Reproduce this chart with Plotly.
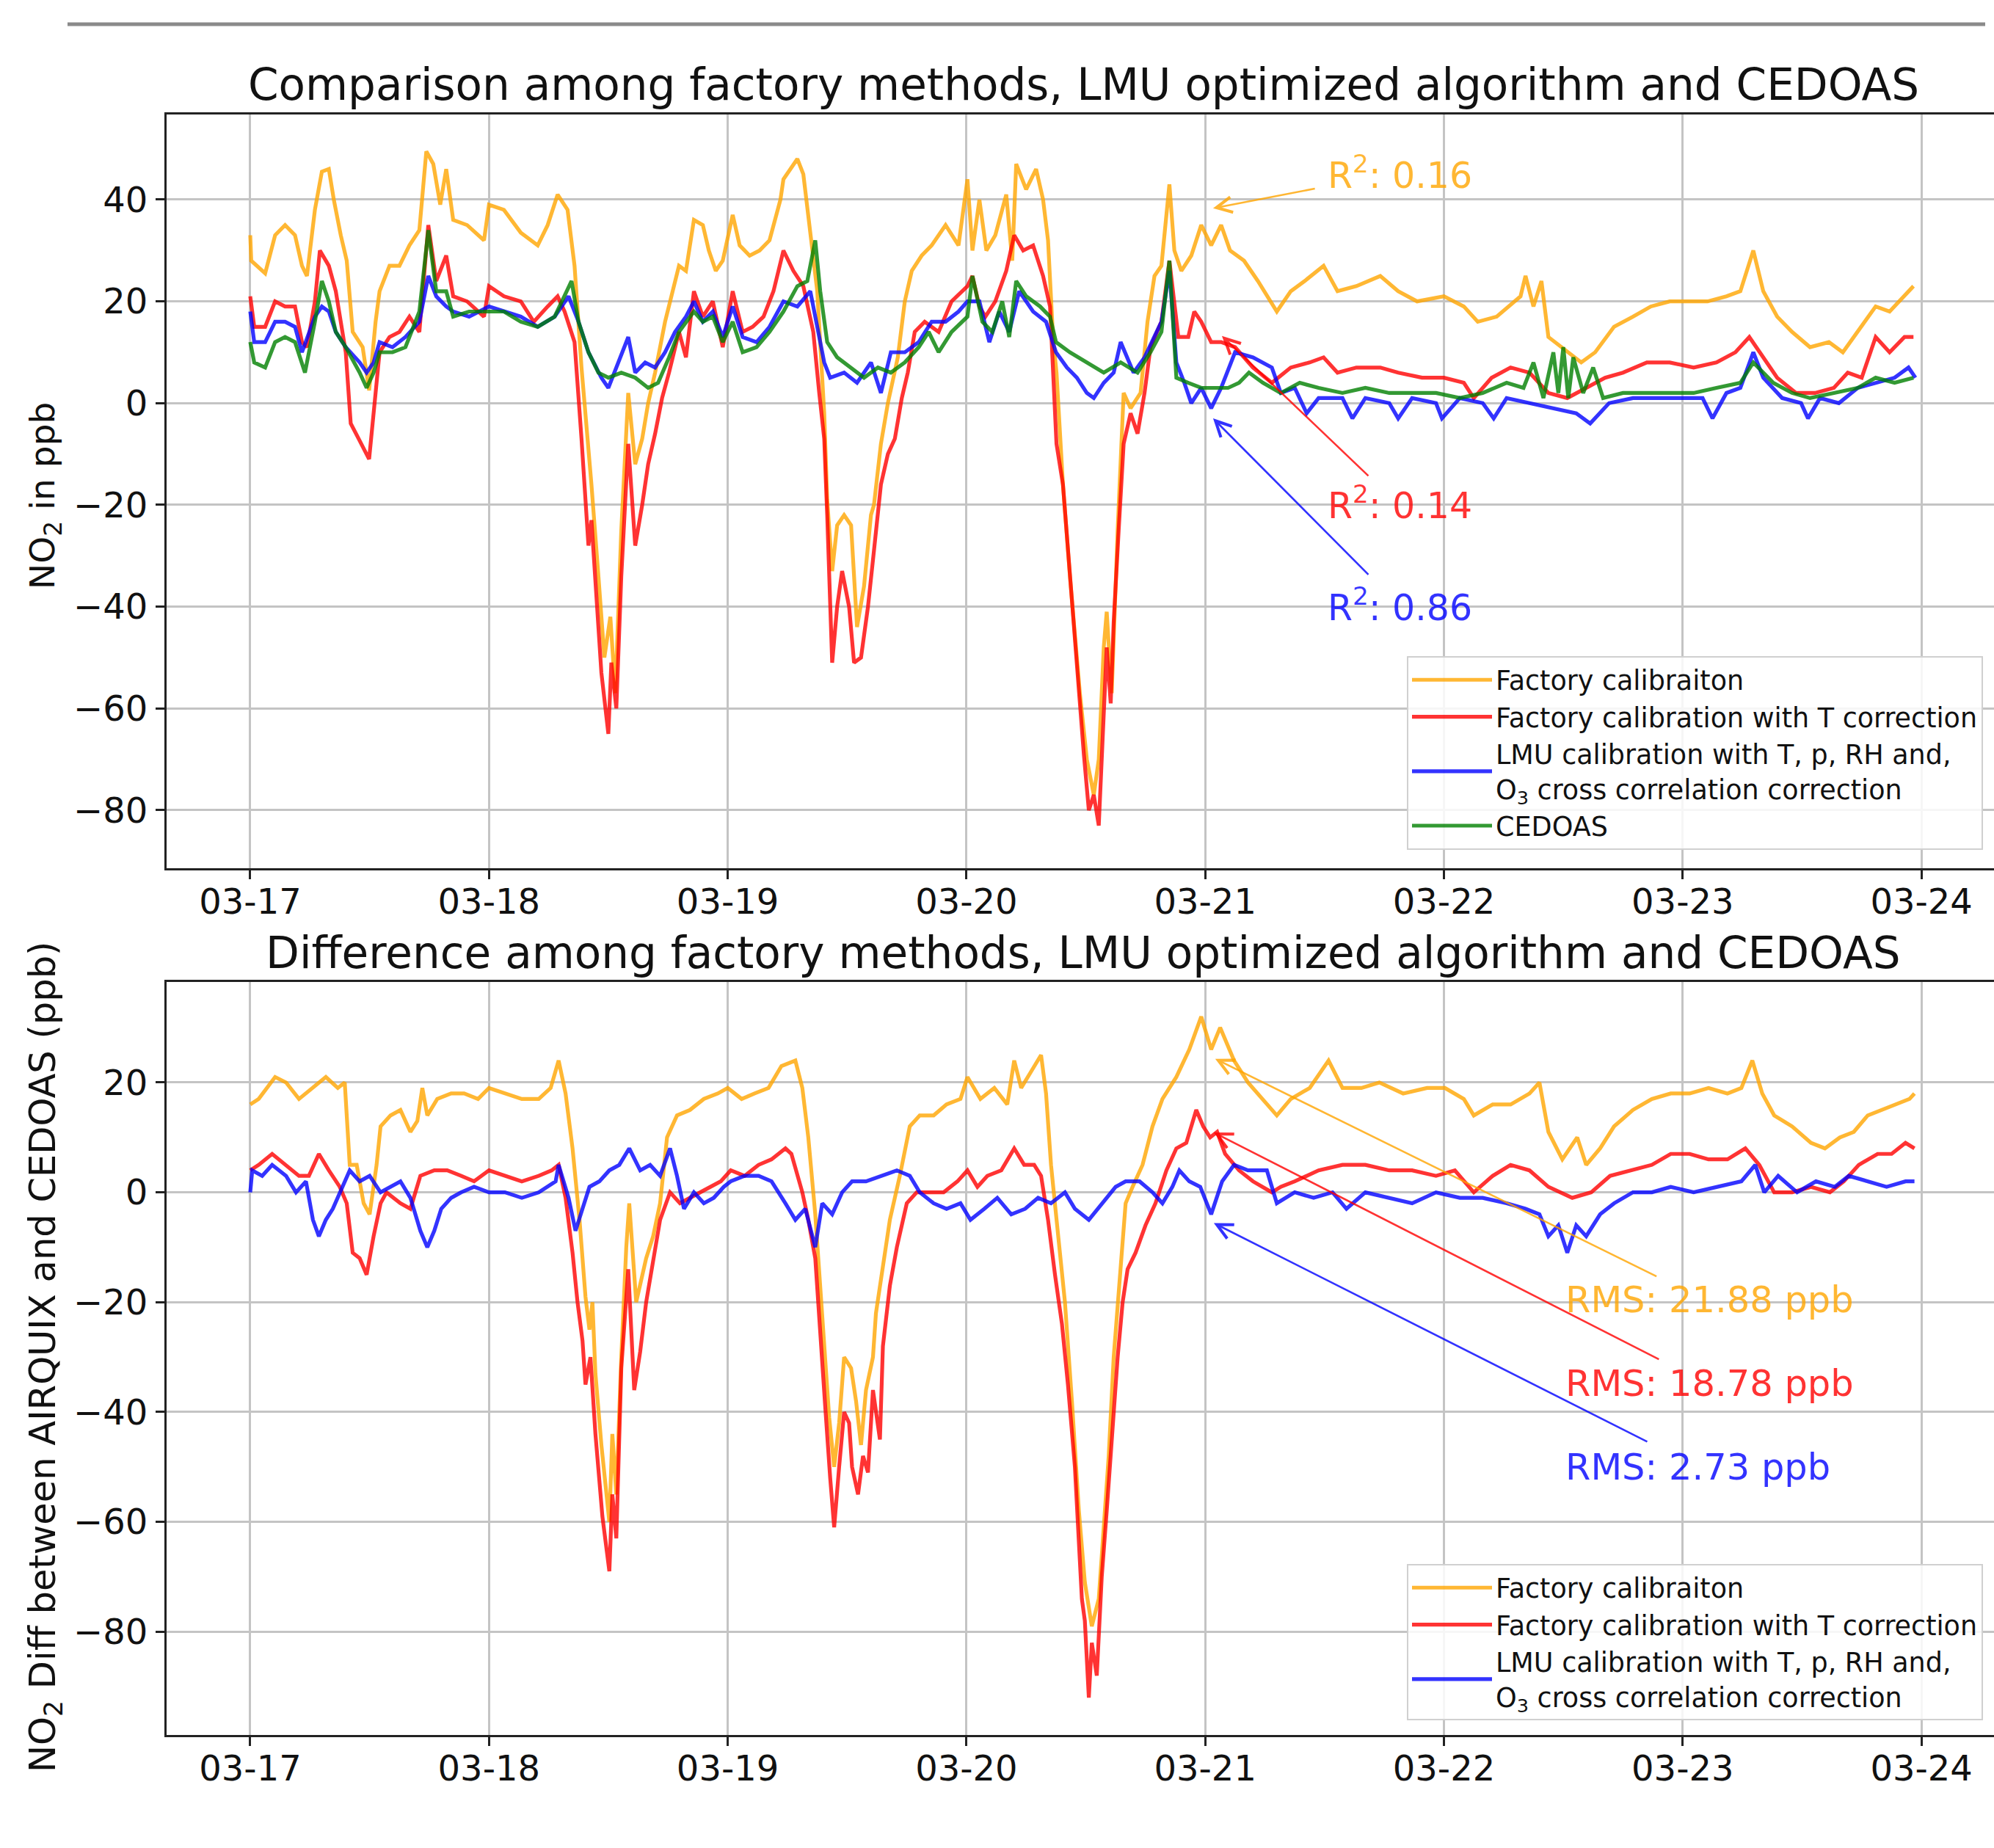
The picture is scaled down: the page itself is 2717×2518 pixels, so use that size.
import pandas as pd
import plotly.graph_objects as go

# ---------------- data (hours since 03-17 00:00, value in ppb) ----------------
BASE = pd.Timestamp("2022-03-17 00:00")

top_fact_h = [0, 0.1, 1.5, 2.5, 3.5, 4.5, 5.2, 5.7, 6.5, 7.2, 7.9, 8.4, 9.1, 9.7, 10.3, 11.3, 11.95, 12.6, 13, 14, 15, 16, 17, 17.7, 18.4, 19.1, 19.7, 20.4, 21.8, 23.5,
              24, 25.5, 27.2, 28.9, 29.9, 30.9, 31.9, 32.6, 33.3, 34, 34.3, 35, 35.6, 36.2, 36.7, 37.3, 38, 38.7, 39.4, 40, 40.7, 41.7, 43.1, 43.8, 44.6, 45.5, 46.1, 46.8, 47.5,
              48.5, 49.2, 50.2, 51.2, 52.2, 53.3, 53.6, 55, 55.6, 56.3, 57, 57.7, 58, 58.5, 59, 59.7, 60.4, 61, 61.7, 62.4, 62.7, 63.4, 64.1, 65.1, 65.8, 66.5, 67.5, 68.5, 69.9, 71.2,
              72.1, 72.6, 73.3, 74, 74.9, 76, 76.6, 77, 78, 79, 79.7, 80.2, 80.7, 81.05, 81.7, 82.4, 83.4, 84.1, 84.8, 85.3, 85.8, 86.1, 86.6, 87.2, 87.8, 88.5, 89.5, 90.2, 90.9,
              91.6, 92.4, 92.9, 93.6, 94.6, 95.6, 96.6, 97.6, 98.5, 99.9, 101.3, 103.2, 104.6, 106, 107.9, 109.3, 111.2, 113.6, 115.4, 117.3,
              120, 122, 123.4, 125.3, 127.7, 128.2, 129, 129.8, 130.5, 132.4, 133.8, 135.2, 137.1, 139, 140.8, 142.7, 144.6, 146.5, 148.4, 149.8, 151.1, 152.1, 153.5, 155, 156.8,
              158.7, 160.1, 161.6, 163.4, 164.8, 166.3, 167.2]
top_fact_v = [33, 28, 25.5, 33, 35, 33, 27, 25, 38, 45.5, 46, 40, 33, 28, 14, 11, 2.5, 16, 22, 27, 27, 31, 34, 49.5, 47, 39, 46, 36, 35, 32,
              39, 38, 33.5, 31, 35, 41, 38, 27, 7, -8, -16, -34, -50, -42, -57, -25, 2, -12, -7, 0, 6, 16, 27, 26, 36, 35, 30, 26, 28,
              37, 31, 29, 30, 32, 40, 44, 48, 45, 33, 22, -2, -19, -33, -24, -22, -24, -44, -36, -22, -20, -8, 0, 9, 20, 26, 29, 31, 35, 31,
              44, 30, 40, 30, 33, 41, 28, 47, 42, 46, 40, 32, 13, 6, -16, -34, -57, -70, -77, -70, -48, -41, -57, -25, 2, -1, 2, 16, 25,
              27, 43, 30, 26, 29, 35, 31, 35, 30, 28, 24, 18, 22, 24, 27, 22, 23, 25, 22, 20,
              21, 19, 16, 17, 21, 25, 19, 24, 13, 10, 8, 10, 15, 17, 19, 20, 20, 20, 21, 22, 30, 22, 17, 14, 11,
              12, 10, 14, 19, 18, 21, 23]

top_tcorr_h = [0, 0.4, 1.5, 2.5, 3.5, 4.5, 5.2, 5.7, 6.5, 7, 7.9, 8.6, 9.6, 10.1, 10.9, 11.95, 12.6, 13, 14, 15, 16, 17, 17.9, 18.7, 19.7, 20.4, 21.8, 23.5,
               24, 25.5, 27.2, 28.5, 29.9, 30.9, 31.6, 32.6, 33.3, 33.6, 34, 34.3, 34.8, 35.3, 36, 36.3, 36.8, 37.3, 38, 38.7, 39.4, 40, 40.7, 41.4, 42.1, 43.1, 43.8, 44.6, 45.5, 46.5, 47.5,
               48.5, 49.5, 50.5, 51.6, 52.6, 53.6, 54.6, 55.6, 56.6, 57.2, 57.7, 58, 58.5, 59, 59.5, 60.2, 60.7, 61.4, 62.1, 62.7, 63.4, 64.1, 64.8, 65.5, 66.1, 66.8, 67.8, 69.2, 70.5,
               72.1, 72.6, 73.3, 73.9, 74.9, 76, 76.8, 77.7, 78.7, 79.7, 80.4, 80.7, 81.05, 81.7, 82.4, 83.1, 83.8, 84.3, 84.8, 85.3, 85.8, 86.1, 86.5, 86.8, 87.3, 87.8, 88.5, 89.2, 89.9,
               90.5, 91.6, 92.4, 93.3, 94.3, 94.9, 95.6, 96.6, 97.6, 99, 100.8, 102.7, 104.6, 106.5, 107.9, 109.3, 111.2, 113.6, 115.4, 117.8,
               120, 122, 123, 124.8, 126.7, 128.6, 130.5, 132.4, 134.3, 136.2, 138, 140.4, 142.7, 145.1, 147.4, 149.3, 150.7, 152.1, 153.5, 155.4, 157.3, 159.2, 160.6, 162,
               163.4, 164.8, 166.3, 167.2]
top_tcorr_v = [21, 15, 15, 20, 19, 19, 12, 11, 20, 30, 27, 22, 10, -4, -7, -11, 2, 10, 13, 14, 17, 14, 35, 24, 29, 21, 20, 17,
               23, 21, 20, 16, 19, 21, 18, 12, -7, -16, -28, -23, -39, -53, -65, -51, -60, -34, -8, -28, -20, -12, -6, 1, 6, 14, 9, 22, 17, 20, 11,
               22, 14, 15, 17, 22, 30, 26, 23, 14, 2, -7, -22, -51, -40, -33, -40, -51, -50, -40, -29, -16, -10, -7, 1, 6, 14, 16, 14, 20,
               23, 25, 19, 17, 20, 26, 33, 30, 31, 25, 19, 6, -8, -16, -34, -53, -69, -80, -77, -83, -60, -48, -59, -43, -25, -8, -2, -6, 2,
               11, 16, 28, 13, 13, 18, 16, 12, 12, 11, 7, 4, 7, 8, 9, 6, 7, 7, 6, 5,
               5, 4, 1, 5, 7, 6, 2, 1, 3, 5, 6, 8, 8, 7, 8, 10, 13, 9, 5, 2, 2, 3, 6, 5,
               13, 10, 13, 13]

top_lmu_h = [0, 0.4, 1.5, 2.5, 3.5, 4.5, 5.2, 6.5, 7.2, 7.9, 8.6, 9.6, 11, 11.7, 12.4, 13, 14.3, 15.6, 17, 17.9, 18.7, 19.7, 20.4, 22,
             24, 25.5, 27.2, 28.9, 30.6, 32, 33, 34, 35.3, 36, 37, 38, 38.7, 39.7, 40.7, 41.7, 42.7, 43.8, 44.6, 45.5, 46.5, 47.5,
             48.5, 49.5, 50.9, 52.2, 53.6, 55, 56.3, 57, 57.7, 58.3, 59.7, 61, 62.4, 63.4, 64.4, 65.8, 67.2, 68.5, 69.9, 71.2,
             72.1, 73.3, 74.3, 75.3, 76.3, 77.3, 78.7, 80, 81, 82.1, 83.1, 84.1, 84.8, 85.8, 86.8, 87.5, 88.8, 89.9, 90.9, 91.6, 92.4, 93.1, 93.9, 94.6, 95.6,
             96.6, 97.6, 99, 100.8, 102.7, 103.6, 105, 106.2, 107.4, 109.8, 110.8, 112.1, 114.5, 115.4, 116.8, 119.2, 119.8,
             121.6, 123.9, 125.0, 126.3, 128.6, 131, 133.3, 134.7, 136.6, 139, 141.3, 143.7, 146, 147, 148.4, 149.8, 151.1, 152.1, 154, 155.9, 156.6, 157.8, 159.7,
             161.6, 163.4, 165.3, 166.7, 167.4]
top_lmu_v = [18, 12, 12, 16, 16, 15, 10, 17, 19, 18, 14, 11, 8, 6, 8, 12, 11, 13, 16, 25, 21, 19, 18, 17,
             19, 18, 17, 15, 17, 21, 16, 10, 5, 3, 8, 13, 6, 8, 7, 10, 14, 17, 20, 16, 18, 13,
             19, 13, 12, 15, 20, 19, 22, 15, 8, 5, 6, 4, 8, 2, 10, 10, 12, 16, 16, 18,
             20, 20, 12, 18, 14, 22, 18, 16, 10, 7, 5, 2, 1, 4, 6, 12, 6, 9, 13, 16, 26, 8, 4, 0, 3,
             -1, 3, 10, 9, 7, 2, 3, -2, 1, 1, -3, 1, 0, -3, 1, 0, -3,
             1, 0, -3, 1, 0, -1, -2, -4, 0, 1, 1, 1, 1, -3, 2, 3, 10, 5, 1, 0, -3, 1, 0,
             3, 4, 5, 7, 5]

top_cedoas_h = [0, 0.4, 1.5, 2.5, 3.5, 4.5, 5.5, 6.5, 7.2, 7.9, 8.6, 9.6, 11, 11.7, 12.4, 13, 14.3, 15.6, 17, 17.9, 18.7, 19.7, 20.4, 22,
                24, 25.5, 27.2, 28.9, 30.6, 32.3, 33, 34, 35, 36, 37.3, 38.7, 40, 41, 42.1, 43.1, 44.6, 45.5, 46.5, 47.5,
                48.5, 49.5, 50.9, 52.2, 53.6, 55, 56, 56.8, 57.3, 58, 59, 60.4, 61.7, 63.1, 64.4, 65.8, 67.2, 68.2, 69.2, 70.5,
                72.1, 72.6, 73.6, 74.6, 75.6, 76.3, 77, 78, 79.4, 80.4, 81, 82.4, 84.1, 85.8, 87.5, 89.2, 90.5, 91.6, 92.4, 93.1, 94.3, 95.6,
                97, 98.3, 99.4, 100.4, 101.8, 103.6, 105.5, 107.4, 109.8, 112.1, 114.5, 116.8, 119.2,
                121.6, 123.9, 126.3, 128, 129, 130, 131, 131.5, 132, 132.5, 133, 134, 135, 136, 138, 140.4, 142.7,
                145.1, 147.4, 149.8, 151.1, 153.1, 155, 156.8, 159.2, 161.6, 163.4, 165.3, 167.2]
top_cedoas_v = [12, 8, 7, 12, 13, 12, 6, 16, 24, 20, 14, 11, 6, 3, 6, 10, 10, 11, 18, 34, 22, 22, 17, 18,
                18, 18, 16, 15, 17, 24, 16, 10, 6, 5, 6, 5, 3, 4, 9, 14, 18, 16, 17, 12,
                16, 10, 11, 14, 18, 23, 24, 32, 22, 12, 9, 7, 5, 7, 6, 8, 11, 14, 10, 14,
                17, 25, 16, 14, 20, 13, 24, 21, 19, 17, 12, 10, 8, 6, 8, 6, 10, 14, 28, 5, 4, 3,
                3, 3, 4, 6, 4, 2, 4, 3, 2, 3, 2, 2, 2,
                1, 2, 4, 3, 8, 1, 10, 2, 11, 1, 9, 2, 7, 1, 2, 2, 2,
                2, 3, 4, 8, 4, 2, 1, 2, 3, 5, 4, 5]

diff_fact_h = [0, 0.85, 2.5, 3.6, 4.9, 6.3, 7.6, 8.8, 9.5, 10, 10.7, 11.4, 12, 12.7, 13.1, 14.1, 15.1, 16.1, 16.8, 17.3, 17.8, 18.8, 20.2, 21.5, 22.9,
               24, 25.6, 27.3, 29, 30.2, 31, 31.7, 32.4, 33.1, 33.7, 34.1, 34.4, 34.7, 35.3, 35.8, 36.1, 36.4, 36.8, 37.3, 37.8, 38.1, 38.8, 39.8, 40.5, 41.2, 41.9, 42.9, 44.2, 45.6, 47,
               48, 49.4, 50.7, 52.1, 53.4, 54.8, 55.5, 56.1, 56.8, 57.5, 58.2, 58.7, 59.2, 59.7, 60.4, 60.9, 61.4, 61.9, 62.6, 62.9, 63.6, 64.3, 65.3, 66.3, 67.3, 68.7, 70, 71.4,
               72.1, 73.4, 74.8, 76.1, 76.8, 77.5, 78.5, 79.5, 80, 80.5, 81, 81.9, 82.6, 83.3, 83.9, 84.6, 85.3, 85.8, 86.3, 86.8, 87.3, 88, 88.7, 89.7, 90.7, 91.7, 93.1, 94.4, 95.6,
               96.6, 97.5, 98.9, 100.3, 101.7, 103.2, 104.6, 106.5, 108.4, 109.8, 111.7, 113.5, 115.9, 118.3,
               120.1, 122, 123, 124.9, 126.7, 128.6, 129.6, 130.5, 131.9, 133.4, 134.3, 135.7, 137.1, 139, 140.9, 142.8,
               144.7, 146.6, 148.5, 149.9, 151, 152, 153.2, 155, 156.9, 158.3, 159.8, 161.2, 162.6, 164, 165.4, 166.8, 167.3]
diff_fact_v = [16, 17, 21, 20, 17, 19, 21, 19, 20, 5, 5, -2, -4, 5, 12, 14, 15, 11, 13, 19, 14, 17, 18, 18, 17,
               19, 18, 17, 17, 19, 24, 18, 8, -5, -19, -25, -20, -33, -46, -55, -60, -44, -55, -30, -10, -2, -20, -12, -8, -2, 10, 14, 15, 17, 18,
               19, 17, 18, 19, 23, 24, 19, 10, -4, -23, -41, -50, -42, -30, -32, -38, -46, -36, -30, -22, -14, -5, 3, 12, 14, 14, 16, 17,
               21, 17, 19, 16, 24, 19, 22, 25, 18, 5, -4, -20, -38, -58, -71, -79, -74, -60, -48, -30, -18, -2, 1, 5, 12, 17, 21, 26, 32,
               26, 30, 24, 20, 17, 14, 17, 19, 24, 19, 19, 20, 18, 19,
               19, 17, 14, 16, 16, 18, 20, 11, 6, 10, 5, 8, 12, 15, 17, 18,
               18, 19, 18, 19, 24, 18, 14, 12, 9, 8, 10, 11, 14, 15, 16, 17, 18]

diff_tcorr_h = [0, 0.85, 2.2, 3.6, 4.9, 5.9, 6.9, 7.9, 9, 9.7, 10.3, 11, 11.7, 12.4, 13.1, 13.7, 15.1, 16.1, 17.1, 18.5, 19.8, 21.2, 22.5,
                24, 25.6, 27.3, 29, 30.3, 31, 31.7, 32.4, 32.9, 33.4, 33.7, 34.2, 34.7, 35.4, 36.1, 36.4, 36.8, 37.3, 38, 38.6, 39.2, 39.8, 40.5, 41.2, 42.2, 43.2, 44.2, 45.3, 46.3, 47.3,
                48.3, 49.7, 51.1, 52.4, 53.8, 54.4, 55.5, 56.1, 56.8, 57.2, 57.8, 58.3, 58.7, 59.2, 59.7, 60.2, 60.5, 61.1, 61.6, 62.1, 62.6, 63.3, 63.6, 64.3, 65, 66, 67, 68.3, 69.7, 71.1,
                72.1, 73.1, 74.1, 75.5, 76.8, 77.8, 78.8, 79.5, 80.2, 80.9, 81.6, 82.2, 82.9, 83.6, 83.9, 84.3, 84.6, 85.1, 85.6, 86.1, 86.6, 87.2, 87.7, 88.2, 89, 90, 91, 92.1, 93.1, 94.1, 95.1, 95.8,
                96.5, 97.2, 98, 99.4, 100.8, 102.7, 103.6, 105, 107.4, 109.8, 112.1, 114.5, 116.8, 119.2,
                121.1, 123, 124.9, 126.7, 128.6, 130.5, 132.9, 134.8, 136.7, 139, 140.9, 142.8,
                144.7, 146.6, 148.5, 150.3, 151.7, 153.2, 155, 156.9, 158.8, 160.2, 161.7, 163.6, 165, 166.4, 167.3]
diff_tcorr_v = [4, 5, 7, 5, 3, 3, 7, 4, 1, -2, -11, -12, -15, -8, -2, 0, -2, -3, 3, 4, 4, 3, 2,
                4, 3, 2, 3, 4, 5, -1, -11, -20, -27, -35, -30, -44, -59, -69, -55, -63, -32, -14, -36, -29, -20, -12, -5, 0, -2, -1, 0, 1, 2,
                4, 3, 5, 6, 8, 7, 0, -5, -12, -22, -39, -52, -61, -50, -40, -42, -50, -55, -48, -51, -36, -45, -28, -17, -10, -2, 0, 0, 0, 2,
                4, 1, 3, 4, 8, 5, 5, 3, -5, -15, -24, -35, -50, -74, -78, -92, -82, -88, -70, -58, -45, -30, -20, -14, -11, -6, -2, 4, 8, 9, 15, 12,
                10, 11, 7, 4, 2, 0, 1, 2, 4, 5, 5, 4, 4, 3,
                4, 0, 3, 5, 4, 1, -1, 0, 3, 4, 5, 7,
                7, 6, 6, 8, 5, 0, 0, 1, 0, 2, 5, 7, 7, 9, 8]

diff_lmu_h = [0, 0.2, 1.2, 2.2, 3.6, 4.6, 5.6, 6.3, 6.9, 7.6, 8.3, 9, 10, 11, 12, 13.1, 14.1, 15.1, 16.1, 17.1, 17.8, 18.5, 19.2, 20.2, 21.2, 22.5,
              24, 25.6, 27.3, 29, 30.7, 31, 32, 32.7, 33.4, 34.1, 35.1, 36.1, 37.1, 38.1, 39.2, 40.2, 41.2, 42.2, 42.9, 43.6, 44.6, 45.6, 46.6, 47.6,
              48.3, 49.7, 51.1, 52.4, 53.8, 54.8, 55.8, 56.8, 57.5, 58.5, 59.5, 60.5, 61.9, 63.6, 65, 66.3, 67.3, 68.7, 70, 71.4,
              72.4, 73.8, 75.1, 76.5, 77.9, 79.2, 80.5, 81.9, 82.9, 84.3, 85.6, 87, 88, 89.4, 90.7, 91.7, 92.7, 93.4, 94.4, 95.5,
              96.6, 97.7, 98.9, 100.3, 102.2, 103.2, 105, 106.9, 108.8, 110.2, 112.1, 114.5, 116.8, 119.2,
              121.6, 123.9, 126.3, 128.2, 129.6, 130.5, 131.5, 132.4, 133.3, 134.3, 135.7, 137.1, 139, 140.9, 142.8,
              145.1, 147.5, 149.9, 151.3, 152.2, 153.6, 155.5, 157.4, 159.3, 160.7, 162.6, 164.5, 166.4, 167.3]
diff_lmu_v = [0, 4, 3, 5, 3, 0, 2, -5, -8, -5, -3, 0, 4, 2, 3, 0, 1, 2, -1, -7, -10, -7, -3, -1, 0, 1,
              0, 0, -1, 0, 2, 5, -1, -7, -3, 1, 2, 4, 5, 8, 4, 5, 3, 8, 3, -3, 0, -2, -1, 1,
              2, 3, 3, 2, -2, -5, -3, -10, -2, -4, 0, 2, 2, 3, 4, 3, 0, -2, -3, -2,
              -5, -3, -1, -4, -3, -1, -2, 0, -3, -5, -2, 1, 2, 2, 0, -2, 1, 4, 2, 1,
              -4, 2, 5, 4, 4, -2, 0, -1, 0, -3, 0, -1, -2, 0,
              -1, -1, -2, -3, -4, -8, -6, -11, -6, -8, -4, -2, 0, 0, 1,
              0, 1, 2, 5, 0, 3, 0, 2, 1, 3, 2, 1, 2, 2]

names = ["Factory calibraiton",
         "Factory calibration with T correction",
         "LMU calibration with T, p, RH and,<br>O<sub>3</sub> cross correlation correction",
         "CEDOAS"]
colors = ["rgba(255,165,0,0.8)", "rgba(255,0,0,0.8)", "rgba(0,0,255,0.8)", "rgba(0,128,0,0.8)"]

x_ticks = ["03-17", "03-18", "03-19", "03-20", "03-21", "03-22", "03-23", "03-24"]
top_y_ticks = [-80, -60, -40, -20, 0, 20, 40]
bot_y_ticks = [-80, -60, -40, -20, 0, 20]


def to_time(hours):
    return BASE + pd.to_timedelta(pd.Series(hours, dtype=float), unit="h")


def t(h):
    return (BASE + pd.Timedelta(hours=h)).strftime("%Y-%m-%d %H:%M:%S")


FONT = "DejaVu Sans"
LW = 5.2
fig = go.Figure()

top_series = [(top_fact_h, top_fact_v), (top_tcorr_h, top_tcorr_v), (top_lmu_h, top_lmu_v), (top_cedoas_h, top_cedoas_v)]
for i, (hh, vv) in enumerate(top_series):
    fig.add_trace(go.Scatter(x=to_time(hh), y=vv, mode="lines", name=names[i],
                             line=dict(color=colors[i], width=LW), xaxis="x", yaxis="y", legend="legend"))

bot_series = [(diff_fact_h, diff_fact_v), (diff_tcorr_h, diff_tcorr_v), (diff_lmu_h, diff_lmu_v)]
for i, (hh, vv) in enumerate(bot_series):
    fig.add_trace(go.Scatter(x=to_time(hh), y=vv, mode="lines", name=names[i],
                             line=dict(color=colors[i], width=LW), xaxis="x2", yaxis="y2", legend="legend2"))

W, H = 2717, 2518
tick_vals = [BASE + pd.Timedelta(days=k) for k in range(len(x_ticks))]
xr = [t(-0.3504 * 24), t(7.304 * 24)]

axis_common = dict(showgrid=True, gridcolor="#c4c4c4", gridwidth=2.5, showline=True, linecolor="#222222",
                   linewidth=3, ticks="outside", ticklen=12, tickwidth=3, tickcolor="#222222",
                   tickfont=dict(family=FONT, size=48, color="#111111"), zeroline=False)

xdom = [227 / W, 1.0]
fig.update_layout(
    width=W, height=H, margin=dict(l=0, r=0, t=0, b=0),
    paper_bgcolor="white", plot_bgcolor="white",
    font=dict(family=FONT, color="#111111"),
    xaxis=dict(axis_common, domain=xdom, anchor="y", range=xr, type="date", tickvals=tick_vals, ticktext=x_ticks,
               mirror=True, ticklabelstandoff=-11),
    yaxis=dict(axis_common, domain=[1 - 1183 / H, 1 - 156 / H], anchor="x", range=[-91.4, 56.73],
               tickvals=top_y_ticks, ticklabelstandoff=1),
    xaxis2=dict(axis_common, domain=xdom, anchor="y2", range=xr, type="date", tickvals=tick_vals, ticktext=x_ticks,
                mirror=True, ticklabelstandoff=-11),
    yaxis2=dict(axis_common, domain=[1 - 2364 / H, 1 - 1338 / H], anchor="x2", range=[-98.8, 38.3],
                tickvals=bot_y_ticks, ticklabelstandoff=1),
    legend=dict(x=1917 / W, y=1 - 894 / H, xanchor="left", yanchor="top", bgcolor="rgba(255,255,255,0.85)",
                bordercolor="#d0d0d0", borderwidth=2, font=dict(family=FONT, size=36.5, color="#111111"),
                tracegroupgap=0, itemwidth=109),
    legend2=dict(x=1917 / W, y=1 - 2131 / H, xanchor="left", yanchor="top", bgcolor="rgba(255,255,255,0.85)",
                 bordercolor="#d0d0d0", borderwidth=2, font=dict(family=FONT, size=36.5, color="#111111"),
                 tracegroupgap=0, itemwidth=109),
    showlegend=True,
)

# top horizontal rule
fig.add_shape(type="line", xref="paper", yref="paper", x0=92 / W, x1=2705 / W, y0=1 - 33 / H, y1=1 - 33 / H,
              line=dict(color="#8a8a8a", width=5))

anns = []
# titles
anns.append(dict(text="Comparison among factory methods, LMU optimized algorithm and CEDOAS", xref="paper", yref="paper",
                 x=1476 / W, y=1 - 116 / H, xanchor="center", yanchor="middle", showarrow=False,
                 font=dict(family=FONT, size=59.6, color="#111111")))
anns.append(dict(text="Difference among factory methods, LMU optimized algorithm and CEDOAS", xref="paper", yref="paper",
                 x=1476 / W, y=1 - 1298 / H, xanchor="center", yanchor="middle", showarrow=False,
                 font=dict(family=FONT, size=59.6, color="#111111")))
# y labels
anns.append(dict(text="NO<sub>2</sub> in ppb", xref="paper", yref="paper", x=61 / W, y=1 - 676 / H,
                 xanchor="center", yanchor="middle", textangle=-90, showarrow=False,
                 font=dict(family=FONT, size=47, color="#111111")))
anns.append(dict(text="NO<sub>2</sub> Diff between AIRQUIX and CEDOAS (ppb)", xref="paper", yref="paper", x=61 / W,
                 y=1 - 1849 / H, xanchor="center", yanchor="middle", textangle=-90, showarrow=False,
                 font=dict(family=FONT, size=49.5, color="#111111")))

# top arrows + labels
top_arrows = [(4.033, 38.3, 4.464, 42.2, 0), (4.070, 13.2, 4.688, -14.5, 1), (4.033, -3.0, 4.688, -33.9, 2)]
for (xd, yv, axd, ayv, ci) in top_arrows:
    anns.append(dict(text="", x=t(xd * 24), y=yv, ax=t(axd * 24), ay=ayv, xref="x", yref="y", axref="x", ayref="y",
                     showarrow=True, arrowhead=5, arrowsize=1.6, arrowwidth=2.6, arrowcolor=colors[ci],
                     startstandoff=0, standoff=0))
top_labels = [("R<sup>2</sup>: 0.16", 45.3, 0), ("R<sup>2</sup>: 0.14", -19.6, 1), ("R<sup>2</sup>: 0.86", -39.7, 2)]
for (txt, yv, ci) in top_labels:
    anns.append(dict(text=txt, x=t(4.507 * 24), y=yv, xref="x", yref="y", xanchor="left", yanchor="middle",
                     showarrow=False, font=dict(family=FONT, size=49, color=colors[ci])))

# bottom arrows + labels
bot_arrows = [(4.042, 24.3, 5.895, -15.4, 0), (4.036, 10.9, 5.905, -30.5, 1), (4.036, -5.6, 5.856, -45.5, 2)]
for (xd, yv, axd, ayv, ci) in bot_arrows:
    anns.append(dict(text="", x=t(xd * 24), y=yv, ax=t(axd * 24), ay=ayv, xref="x2", yref="y2", axref="x2", ayref="y2",
                     showarrow=True, arrowhead=5, arrowsize=1.6, arrowwidth=2.6, arrowcolor=colors[ci],
                     startstandoff=0, standoff=0))
bot_labels = [("RMS: 21.88 ppb", -19.5, 0), ("RMS: 18.78 ppb", -34.8, 1), ("RMS: 2.73 ppb", -50.0, 2)]
for (txt, yv, ci) in bot_labels:
    anns.append(dict(text=txt, x=t(5.503 * 24), y=yv, xref="x2", yref="y2", xanchor="left", yanchor="middle",
                     showarrow=False, font=dict(family=FONT, size=49.5, color=colors[ci])))

fig.update_layout(annotations=anns)

fig.write_html("out.html", config={"displayModeBar": False},
               post_script="document.body.style.margin='0';document.body.style.overflow='hidden';")
